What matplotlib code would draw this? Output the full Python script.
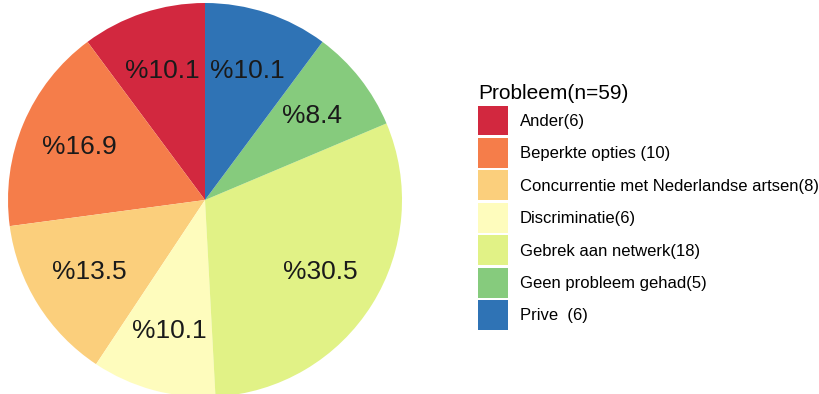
import matplotlib
matplotlib.use('Agg')
import matplotlib.pyplot as plt

plt.rcParams['font.family'] = ['Liberation Sans', 'DejaVu Sans']

# data
categories = ['Ander', 'Beperkte opties', 'Concurrentie met Nederlandse artsen',
              'Discriminatie', 'Gebrek aan netwerk', 'Geen probleem gehad', 'Prive']
counts = [6, 10, 8, 6, 18, 5, 6]
pct_labels = ['%10.1', '%16.9', '%13.5', '%10.1', '%30.5', '%8.4', '%10.1']
legend_labels = ['Ander(6)', 'Beperkte opties (10)', 'Concurrentie met Nederlandse artsen(8)',
                 'Discriminatie(6)', 'Gebrek aan netwerk(18)', 'Geen probleem gehad(5)', 'Prive  (6)']
colors = ['#d2283f', '#f57d4a', '#fbcf7c', '#fefcbd', '#e1f286', '#86cb7d', '#2f73b5']

fig = plt.figure(figsize=(8.19, 3.94), dpi=100)
ax = fig.add_axes([8 / 819, -3 / 394, 394 / 819, 394 / 394])

lab_iter = iter(pct_labels)
wedges, texts, autotexts = ax.pie(counts, colors=colors, startangle=90, counterclock=True,
                                  autopct=lambda p: next(lab_iter), pctdistance=0.69,
                                  wedgeprops=dict(linewidth=0))
for t in autotexts:
    t.set_fontsize(19)
    t.set_color('#1a1a1a')
ax.set_xlim(-1, 1)
ax.set_ylim(-1, 1)
ax.set_aspect('equal')

leg = fig.legend(wedges, legend_labels, loc='upper left', bbox_to_anchor=(463 / 819, 1 - 69 / 394),
                 frameon=False, fontsize=12, title='Probleem(n=59)', title_fontsize=15,
                 handlelength=1.8, handleheight=2.39, labelspacing=0.15, handletextpad=0.72,
                 alignment='left')

fig.savefig('out.png', dpi=100)
